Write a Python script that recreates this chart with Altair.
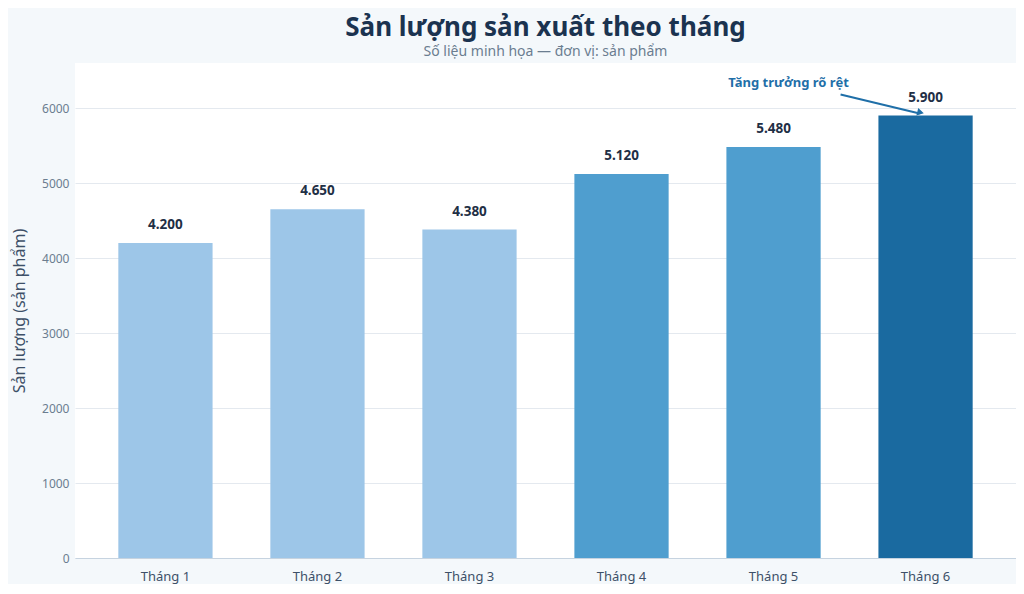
import altair as alt
import pandas as pd

months = ["Tháng 1", "Tháng 2", "Tháng 3", "Tháng 4", "Tháng 5", "Tháng 6"]
values = [4200, 4650, 4380, 5120, 5480, 5900]
tiers = ["low", "low", "low", "mid", "mid", "high"]

tier_domain = ["low", "mid", "high"]
tier_colors = ["#9dc6e8", "#4f9ecf", "#1a6aa0"]

annot_month = "Tháng 6"
annot_text = "Tăng trưởng rõ rệt"
annot_text_y = 6330
annot_arrow_start = 6180
annot_arrow_end = 5900

df = pd.DataFrame({"month": months, "value": values, "tier": tiers})
ann = pd.DataFrame({"month": [annot_month], "ty": [annot_text_y],
                    "y1": [annot_arrow_start], "y2": [annot_arrow_end],
                    "text": [annot_text]})

FONT = "Noto Sans"

x_enc = alt.X("month:N", sort=months,
              scale=alt.Scale(paddingInner=0.38, paddingOuter=0.285),
              axis=alt.Axis(title=None, labelAngle=0, labelFontSize=13,
                            labelColor="#3d5068", labelPadding=12, ticks=False,
                            domain=True, domainColor="#c6d3e0", grid=False))
y_scale = alt.Scale(domain=[0, 6600], nice=False)

bars = alt.Chart(df).mark_bar().encode(
    x=x_enc,
    y=alt.Y("value:Q", scale=y_scale,
            axis=alt.Axis(title="Sản lượng (sản phẩm)", titleFontSize=16,
                          titleFontWeight="normal", titleColor="#3d5068",
                          titlePadding=14, labelFontSize=12, labelColor="#6b7d90",
                          format="d", values=[0, 1000, 2000, 3000, 4000, 5000, 6000],
                          ticks=False, domain=False, gridColor="#e4e9ef",
                          labelPadding=6)),
    color=alt.Color("tier:N", scale=alt.Scale(domain=tier_domain, range=tier_colors),
                    legend=None),
)

labels = alt.Chart(df).transform_calculate(
    lbl="replace(format(datum.value, ','), ',', '.')"
).mark_text(font=FONT, fontSize=13.5, fontWeight="bold", color="#1f2f45",
            dy=-18).encode(
    x=alt.X("month:N", sort=months),
    y=alt.Y("value:Q", scale=y_scale),
    text="lbl:N",
)

ann_text = alt.Chart(ann).mark_text(font=FONT, fontSize=13, fontWeight="bold",
                                    color="#1f6fa8", dx=-137).encode(
    x=alt.X("month:N", sort=months),
    y=alt.Y("ty:Q", scale=y_scale),
    text="text:N",
)

ann_line = alt.Chart(ann).mark_rule(color="#1f6fa8", strokeWidth=2,
                                    xOffset=-85, x2Offset=-6, y2Offset=-2).encode(
    x=alt.X("month:N", sort=months),
    x2=alt.X2("month:N"),
    y=alt.Y("y1:Q", scale=y_scale),
    y2="y2:Q",
)

ann_head = alt.Chart(ann).mark_point(shape="triangle-right", filled=True,
                                     color="#1f6fa8", size=60, angle=14,
                                     opacity=1, xOffset=-5, yOffset=-3).encode(
    x=alt.X("month:N", sort=months),
    y=alt.Y("y2:Q", scale=y_scale),
)

chart = alt.layer(bars, labels, ann_line, ann_head, ann_text).properties(
    width=941, height=495,
    background="#f4f8fb",
    padding={"left": 67, "top": 55, "right": 0, "bottom": 26},
    autosize=alt.AutoSizeParams(type="none"),
    title=alt.Title("Sản lượng sản xuất theo tháng",
                    subtitle="Số liệu minh họa — đơn vị: sản phẩm",
                    font=FONT, fontSize=26, fontWeight="bold", color="#1b3350",
                    subtitleFont=FONT, subtitleFontSize=14, subtitleColor="#6b7d90",
                    subtitlePadding=4, anchor="middle", offset=4),
).configure(font=FONT).configure_view(fill="white", stroke=None)

chart.save("out.html", embed_options={"renderer": "svg", "actions": False})
